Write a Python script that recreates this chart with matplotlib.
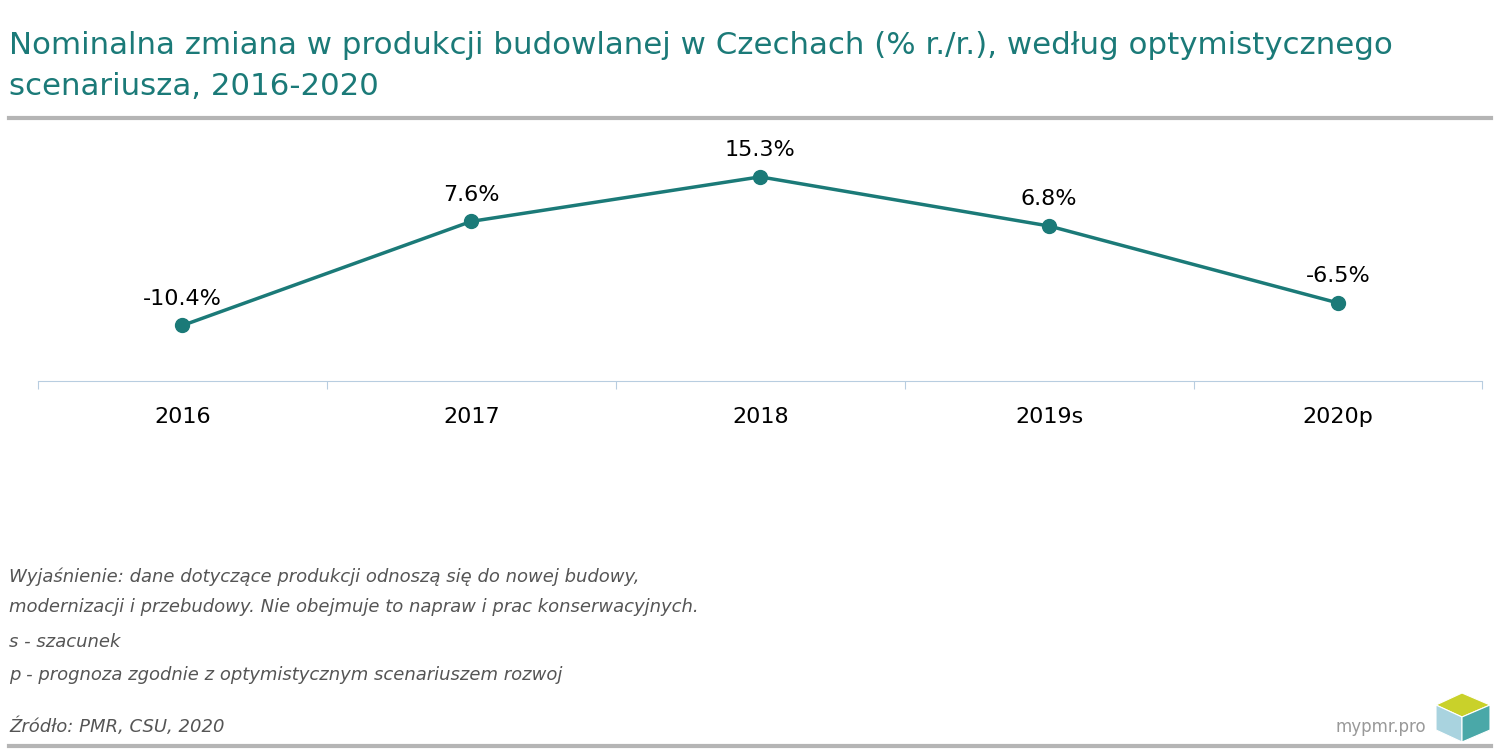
import matplotlib
matplotlib.use("Agg")
import matplotlib.pyplot as plt
from matplotlib.patches import Polygon

categories = ["2016", "2017", "2018", "2019s", "2020p"]
values = [-10.4, 7.6, 15.3, 6.8, -6.5]
labels = ["-10.4%", "7.6%", "15.3%", "6.8%", "-6.5%"]

teal = "#1b7a78"
fig = plt.figure(figsize=(15, 7.5), dpi=100)
fig.text(0.006, 0.958, "Nominalna zmiana w produkcji budowlanej w Czechach (% r./r.), według optymistycznego\nscenariusza, 2016-2020",
         color=teal, fontsize=22.2, va="top", ha="left", linespacing=1.5)
fig.add_artist(plt.Line2D([0.006, 0.994], [0.843, 0.843], color="#b5b5b5", lw=3))
fig.add_artist(plt.Line2D([0.006, 0.994], [0.006, 0.006], color="#b5b5b5", lw=3))

ax = fig.add_axes([0.0253, 0.492, 0.963, 0.347])
x = list(range(len(categories)))
ax.plot(x, values, color=teal, lw=2.5, marker="o", ms=10)
for xi, v, l in zip(x, values, labels):
    ax.annotate(l, (xi, v), xytext=(0, 12), textcoords="offset points", ha="center", va="bottom", fontsize=16)
ax.set_xlim(-0.5, 4.5)
ax.set_ylim(-20, 25)
for s in ["top", "right", "left"]:
    ax.spines[s].set_visible(False)
ax.spines["bottom"].set_color("#b8cde0")
ax.set_yticks([])
ax.set_xticks([i + 0.5 for i in range(-1, 5)])
ax.set_xticklabels([])
ax.tick_params(axis="x", length=6, color="#b8cde0")
for xi, c in zip(x, categories):
    ax.text(xi, -0.138, c, transform=ax.get_xaxis_transform(), ha="center", va="center", fontsize=16)

notes = [(577, "Wyjaśnienie: dane dotyczące produkcji odnoszą się do nowej budowy,"),
         (607, "modernizacji i przebudowy. Nie obejmuje to napraw i prac konserwacyjnych."),
         (642, "s - szacunek"),
         (675, "p - prognoza zgodnie z optymistycznym scenariuszem rozwoj"),
         (727, "Źródło: PMR, CSU, 2020")]
for y, t in notes:
    fig.text(0.006, 1 - y / 750, t, fontsize=13, style="italic", color="#555555", va="center")
fig.text(0.951, 1 - 727 / 750, "mypmr.pro", fontsize=12, color="#999999", ha="right", va="center")

def P(pts, c):
    fig.add_artist(Polygon([(px / 1500, 1 - py / 750) for px, py in pts], closed=True, facecolor=c,
                           edgecolor="white", lw=0.8, transform=fig.transFigure))
P([(1436, 705), (1462, 693), (1490, 705), (1462, 717)], "#c9d12a")
P([(1436, 705), (1462, 717), (1462, 742), (1436, 730)], "#a9d3df")
P([(1462, 717), (1490, 705), (1490, 730), (1462, 742)], "#4aa8a8")
fig.savefig("out.png")
